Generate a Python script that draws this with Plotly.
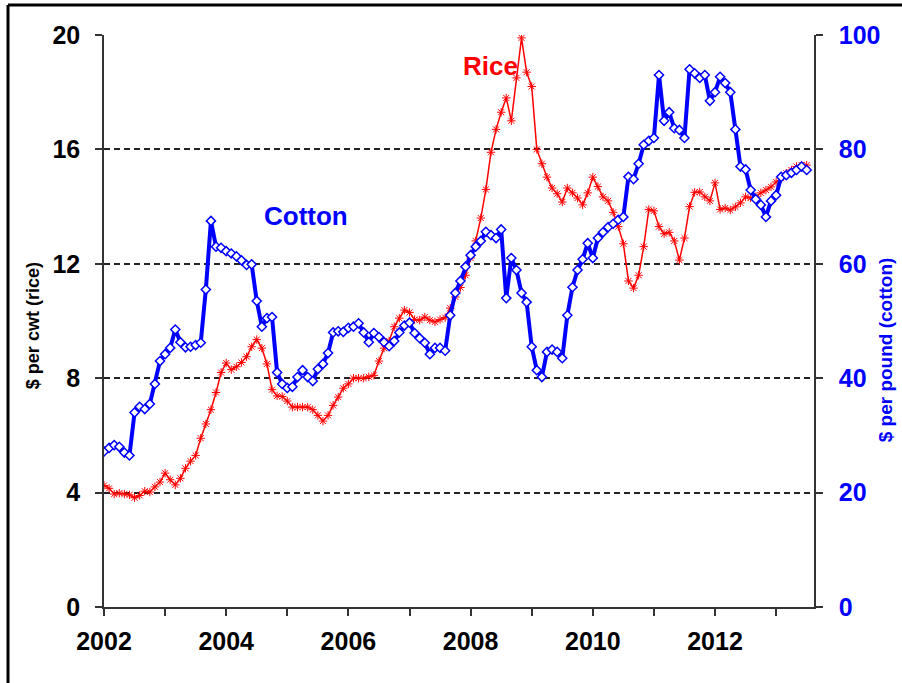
import plotly.graph_objects as go

# Monthly values starting Jan 2002
cotton = [27.2, 27.8, 28.3, 28.0, 27.0, 26.5, 34.0, 35.0, 34.6, 35.5, 39.0, 43.0,
          44.2, 45.3, 48.5, 46.3, 45.4, 45.5, 45.8, 46.2, 55.5, 67.5, 63.0, 62.8,
          62.2, 61.8, 61.3, 60.6, 59.8, 59.9, 53.5, 49.0, 50.5, 50.7, 41.0, 39.0,
          38.3, 38.5, 40.2, 41.4, 40.2, 39.5, 41.6, 42.5, 44.4, 48.0, 48.2, 48.1,
          48.8, 49.0, 49.6, 48.0, 46.3, 47.9, 47.2, 46.3, 45.6, 46.5, 48.0, 49.2,
          49.7, 47.9, 47.0, 46.2, 44.2, 45.3, 45.3, 44.8, 51.0, 54.9, 57.0, 59.5,
          61.5, 63.0, 64.0, 65.6, 65.0, 64.5, 66.0, 54.0, 61.0, 58.9, 54.9, 53.3,
          45.5, 41.4, 40.2, 44.6, 45.0, 44.6, 43.5, 51.0, 55.9, 58.9, 60.8, 63.6,
          61.0, 64.5, 65.5, 66.4, 67.0, 67.7, 68.2, 75.2, 74.8, 77.5, 80.8, 81.5,
          82.0, 93.0, 85.0, 86.5, 83.7, 83.4, 82.0, 94.0, 93.3, 92.5, 93.0, 88.5,
          90.0, 92.7, 91.6, 90.0, 83.5, 77.0, 76.5, 72.9, 71.3, 70.3, 68.2, 71.0,
          72.0, 75.2, 75.5, 75.9, 76.4, 77.0, 76.4]

rice = [4.25, 4.15, 3.95, 3.98, 3.95, 3.92, 3.82, 3.90, 4.05, 4.02, 4.20, 4.37,
        4.68, 4.45, 4.27, 4.50, 4.85, 5.10, 5.30, 5.90, 6.40, 6.90, 7.50, 8.20,
        8.53, 8.30, 8.40, 8.55, 8.75, 9.10, 9.35, 9.05, 8.50, 7.60, 7.38, 7.36,
        7.20, 6.99, 6.99, 6.99, 6.99, 6.90, 6.70, 6.50, 6.70, 7.05, 7.34, 7.65,
        7.80, 8.00, 8.00, 8.00, 8.05, 8.10, 8.60, 9.05, 9.30, 9.80, 10.10, 10.38,
        10.30, 10.05, 10.03, 10.14, 10.03, 9.97, 10.05, 10.12, 10.45, 10.84, 11.17, 11.60,
        12.20, 12.80, 13.60, 14.60, 15.90, 16.70, 17.30, 17.80, 17.00, 18.50, 19.90, 18.70,
        18.20, 16.00, 15.50, 15.03, 14.65, 14.45, 14.16, 14.65, 14.48, 14.30, 14.06, 14.48,
        15.03, 14.70, 14.34, 14.20, 13.80, 13.30, 12.70, 11.40, 11.15, 11.60, 12.60, 13.90,
        13.85, 13.30, 13.05, 13.10, 12.80, 12.13, 12.90, 14.00, 14.50, 14.51, 14.34, 14.20,
        14.83, 13.90, 13.95, 13.88, 13.99, 14.13, 14.34, 14.30, 14.34, 14.48, 14.58, 14.69,
        14.86, 15.00, 15.17, 15.28, 15.40, 15.45, 15.45]

start_year = 2002
x_vals = [start_year + i / 12 for i in range(len(rice))]

year_ticks = list(range(2002, 2014))
year_labels = [str(y) if y % 2 == 0 else "" for y in year_ticks]
left_ticks = [0, 4, 8, 12, 16, 20]
right_ticks = [0, 20, 40, 60, 80, 100]

FONT = "Liberation Sans, Arial, sans-serif"
BLUE = "#0000FF"
RED = "#FF0000"

fig = go.Figure()
fig.add_trace(go.Scatter(
    x=x_vals, y=cotton, yaxis="y2", mode="lines+markers", name="Cotton",
    line=dict(color=BLUE, width=4),
    marker=dict(symbol="diamond", size=7, color="white",
                line=dict(color=BLUE, width=1.5)),
))
fig.add_trace(go.Scatter(
    x=x_vals, y=rice, yaxis="y", mode="lines+markers", name="Rice",
    line=dict(color=RED, width=1.5),
    marker=dict(symbol="asterisk-open", size=7, color=RED,
                line=dict(color=RED, width=1)),
))

fig.update_layout(
    width=902, height=683,
    margin=dict(l=104, r=88, t=35, b=76),
    paper_bgcolor="white", plot_bgcolor="white",
    showlegend=False,
    font=dict(family=FONT, color="black"),
    xaxis=dict(
        range=[2002, 2013.62], tickmode="array", tickvals=year_ticks, ticktext=year_labels,
        showgrid=False, zeroline=False, showline=True, linecolor="#333", linewidth=1.5,
        ticks="outside", ticklen=7, tickwidth=1.5, tickcolor="#333",
        tickfont=dict(size=25, weight="bold", color="black"),
        ticklabelstandoff=4,
    ),
    yaxis=dict(
        range=[0, 20], tickmode="array", tickvals=left_ticks,
        showgrid=True, gridcolor="#222", gridwidth=1.5, griddash="6px,4px",
        zeroline=False, showline=True, linecolor="#333", linewidth=1.5,
        ticks="outside", ticklen=7, tickwidth=1.5, tickcolor="#333",
        tickfont=dict(size=25, weight="bold", color="black"),
        ticklabelstandoff=10,
    ),
    yaxis2=dict(
        range=[0, 100], tickmode="array", tickvals=right_ticks,
        overlaying="y", side="right", showgrid=False, zeroline=False,
        showline=True, linecolor="#333", linewidth=1.5,
        ticks="outside", ticklen=7, tickwidth=1.5, tickcolor="#333",
        tickfont=dict(size=25, weight="bold", color=BLUE),
        ticklabelstandoff=11,
    ),
    annotations=[
        dict(text="Rice", x=2008.32, y=18.9, xref="x", yref="y", showarrow=False,
             font=dict(size=26, weight="bold", color=RED)),
        dict(text="Cotton", x=2005.31, y=13.67, xref="x", yref="y", showarrow=False,
             font=dict(size=26, weight="bold", color=BLUE)),
        dict(text="$ per cwt (rice)", x=-0.1, y=0.491, xref="paper", yref="paper",
             textangle=-90, showarrow=False, xanchor="center", yanchor="middle",
             font=dict(size=18, weight="bold", color="black")),
        dict(text="$ per pound (cotton)", x=1.101, y=0.45, xref="paper", yref="paper",
             textangle=-90, showarrow=False, xanchor="center", yanchor="middle",
             font=dict(size=19, weight="bold", color=BLUE)),
    ],
    shapes=[
        dict(type="line", xref="paper", yref="paper", x0=-0.1352, x1=1.3, y0=1.0524, y1=1.0524,
             line=dict(color="black", width=3)),
        dict(type="line", xref="paper", yref="paper", x0=-0.1352, x1=-0.1352, y0=1.0524, y1=-0.3,
             line=dict(color="black", width=3)),
    ],
)

fig.write_html("out.html", config={"displayModeBar": False},
               post_script="document.body.style.margin='0';")
